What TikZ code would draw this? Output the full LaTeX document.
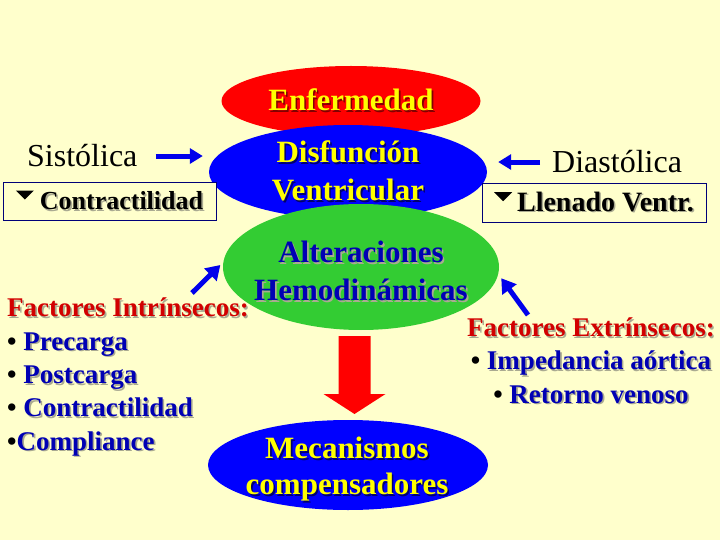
\documentclass[tikz,border=0pt]{standalone}
\usepackage{fontspec}
\setmainfont{Liberation Serif}
\usetikzlibrary{shapes.geometric,arrows.meta,positioning,calc}
\definecolor{PaleBg}{RGB}{255,255,204}
\definecolor{PureRed}{RGB}{255,0,0}
\definecolor{PureBlue}{RGB}{0,0,255}
\definecolor{LeafGreen}{RGB}{51,204,51}
\definecolor{SunYellow}{RGB}{255,255,0}
\definecolor{InkBlue}{RGB}{0,0,180}
\definecolor{InkRed}{RGB}{210,0,0}
\definecolor{ArrBlue}{RGB}{0,0,235}
\definecolor{BoxLine}{RGB}{0,0,120}
\definecolor{ShadeGray}{RGB}{170,170,145}
\definecolor{ShadeNavy}{RGB}{0,0,110}
\definecolor{ShadeRed}{RGB}{130,0,0}
\newcommand{\shd}[2][ShadeGray]{\leavevmode\rlap{\kern1.6pt\raisebox{-1.6pt}{\textcolor{#1}{#2}}}#2}
\newcommand{\downtri}{\tikz[baseline=0pt]\fill[black] (0pt,19pt) -- (18pt,19pt) -- (9pt,10pt) -- cycle;}
\tikzset{
  ellred/.style={ellipse,fill=PureRed,minimum width=259pt,minimum height=70pt,inner sep=0pt},
  ellblue/.style={ellipse,fill=PureBlue,inner sep=0pt},
  ellgreen/.style={ellipse,fill=LeafGreen,minimum width=276pt,minimum height=126pt,inner sep=0pt},
  bigyel/.style={text=SunYellow,font=\fontsize{31}{38}\selectfont\bfseries,align=center,inner sep=0pt},
  bigblu/.style={text=InkBlue,font=\fontsize{31}{38}\selectfont\bfseries,align=center,inner sep=0pt},
  plaintxt/.style={font=\fontsize{32}{38}\selectfont,inner sep=0pt},
  fbox/.style={draw=BoxLine,fill=PaleBg,line width=0.8pt,inner sep=0pt,
               font=\fontsize{26}{30}\selectfont\bfseries},
  list/.style={align=left,inner sep=0pt,text=InkBlue,
               font=\fontsize{27}{33.3}\selectfont\bfseries},
  arrb/.style={-{Triangle[length=13pt,width=15pt]},ArrBlue,line width=5pt},
  arrd/.style={-{Triangle[length=14pt,width=17pt]},ArrBlue,line width=5pt},
}
\begin{document}
\begin{tikzpicture}[x=1pt,y=-1pt]
  \fill[PaleBg] (0,0) rectangle (720,540);
  \useasboundingbox (0,0) rectangle (720,540);
  % the four ellipses
  \node[ellred,label={[bigyel]center:\shd[ShadeRed]{Enfermedad}}] (enf) at (351,101) {};
  \node[ellblue,minimum width=278pt,minimum height=94pt,
        label={[bigyel]center:\shd[ShadeNavy]{Disfunción}\\\shd[ShadeNavy]{Ventricular}}] (dis) at (348,172) {};
  \node[ellgreen,
        label={[bigblu,yshift=-5pt]center:\shd{Alteraciones}\\\shd{Hemodinámicas}}] (alt) at (361,267) {};
  \node[ellblue,minimum width=280pt,minimum height=90pt,
        label={[bigyel,font=\fontsize{31}{36}\selectfont\bfseries,yshift=-5pt,xshift=-1pt]center:\shd[ShadeNavy]{Mecanismos}\\\shd[ShadeNavy]{compensadores}}] (mec) at (348,465) {};
  % boxes
  \node[fbox,minimum width=213pt,minimum height=38pt] (con) at (109.5,201) {\downtri\hspace{6pt}\shd{Contractilidad}};
  \node[fbox,minimum width=224pt,minimum height=39pt,font=\fontsize{28}{32}\selectfont\bfseries] (lle) at (594,202.5) {\downtri\hspace{5pt}\shd{Llenado Ventr.}};
  % side words
  \node[plaintxt,anchor=base west] (sis) at (27,167) {Sistólica};
  \node[plaintxt,anchor=base west] (dia) at (552,173) {Diastólica};
  \draw[arrb] ([xshift=18pt]sis.east) -- ([xshift=-6pt]sis.east -| dis.west);
  \draw[arrb] ([xshift=-12pt]dia.west) -- ([xshift=11pt]dia.west -| dis.east);
  % factors
  \node[list,anchor=base west] (fint) at (7,450) {\textcolor{InkRed}{\shd{Factores Intrínsecos:}}\\
    {\color{black}•} \shd{Precarga}\\
    {\color{black}•} \shd{Postcarga}\\
    {\color{black}•} \shd{Contractilidad}\\
    {\color{black}•}\shd{Compliance}};
  \node[list,align=center,anchor=base] (fext) at (591,403) {\textcolor{InkRed}{\shd{Factores Extrínsecos:}}\\
    {\color{black}•} \shd{Impedancia aórtica}\\
    {\color{black}•} \shd{Retorno venoso}};
  \coordinate (inTail) at (192,293);
  \coordinate (exTail) at (528,315);
  \draw[arrd,shorten >=4pt] (inTail) -- (alt.178.7);
  \draw[arrd,shorten >=5pt] (exTail) -- (alt.-3.5);
  % big red arrow
  \coordinate (mid) at ($(alt.south)!0.5!(mec.north)$);
  \fill[PureRed] ([shift={(-16,-39)}]mid) -- ++(32,0) -- ++(0,58) -- ++(15,0) -- ++(-31,20)
    -- ++(-31,-20) -- ++(15,0) -- cycle;
\end{tikzpicture}
\end{document}
